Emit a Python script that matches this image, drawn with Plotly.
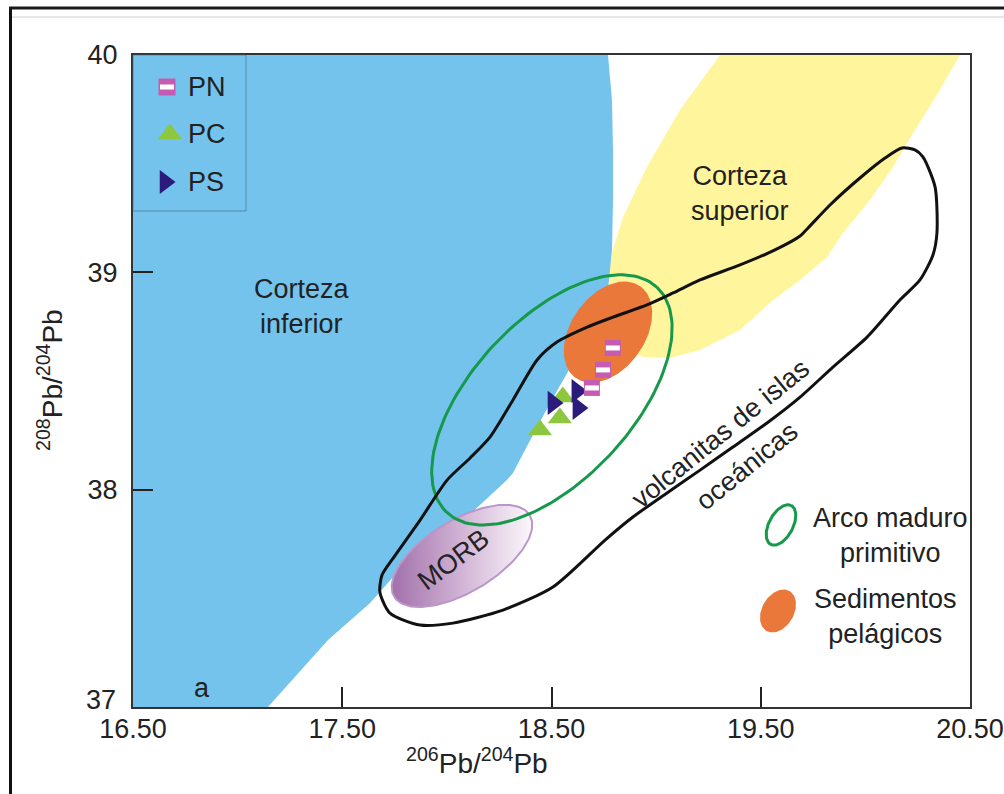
import numpy as np
import plotly.graph_objects as go

# ---- sample data: 208Pb/204Pb vs 206Pb/204Pb ----
pn_x = [18.793, 18.746, 18.693]
pn_y = [38.652, 38.551, 38.468]
pc_x = [18.445, 18.540, 18.554]
pc_y = [38.274, 38.330, 38.426]
ps_x = [18.507, 18.621, 18.626]
ps_y = [38.399, 38.454, 38.376]

# ---- reservoir fields (data units) ----
lower_crust_x = [16.500, 18.770, 18.789, 18.794, 18.794, 18.789, 18.770, 18.722, 18.651,
                 18.574, 18.507, 18.431, 18.316, 18.287, 18.158, 17.967, 17.743, 17.633,
                 17.432, 17.145, 16.500]
lower_crust_y = [40.000, 40.000, 39.793, 39.563, 39.333, 39.103, 38.919, 38.781, 38.666,
                 38.537, 38.422, 38.288, 38.077, 38.044, 37.929, 37.768, 37.598, 37.478,
                 37.308, 37.000, 37.000]

upper_crust_x = [19.305, 20.452, 20.342, 20.228, 20.132, 20.022, 19.893, 19.817, 19.688,
                 19.559, 19.401, 19.210, 19.066, 18.937, 18.851, 18.780, 18.765, 18.789,
                 18.842, 18.956, 19.114, 19.305]
upper_crust_y = [40.000, 40.000, 39.816, 39.641, 39.485, 39.333, 39.181, 39.071, 38.965,
                 38.873, 38.735, 38.643, 38.606, 38.610, 38.652, 38.781, 38.919, 39.089,
                 39.255, 39.485, 39.747, 40.000]

# ocean-island volcanics field outline
oib_x = [17.680, 17.690, 17.747, 17.872, 18.001, 18.111, 18.206, 18.316, 18.431, 18.526,
         18.670, 18.794, 18.956, 19.081, 19.210, 19.401, 19.568, 19.688, 19.726, 19.831,
         19.974, 20.094, 20.175, 20.237, 20.275, 20.333, 20.342, 20.323, 20.261, 20.165,
         20.008, 19.845, 19.688, 19.530, 19.367, 19.210, 19.052, 18.889, 18.756,
         18.507, 18.268, 18.029, 17.872, 17.728, 17.680]
oib_y = [37.528, 37.607, 37.690, 37.860, 38.044, 38.146, 38.242, 38.413, 38.597, 38.679,
         38.748, 38.794, 38.850, 38.905, 38.965, 39.034, 39.103, 39.167, 39.204, 39.310,
         39.434, 39.526, 39.572, 39.563, 39.531, 39.393, 39.181, 39.080, 38.965, 38.873,
         38.702, 38.564, 38.426, 38.307, 38.196, 38.090, 37.985, 37.874, 37.768,
         37.552, 37.446, 37.386, 37.377, 37.432, 37.528]

# ellipse fields: centre (x, y), semi-axes in x units, tilt in degrees
arc_field = dict(cx=18.502, cy=38.413, a=0.736, b=0.382, ang=47)
sed_field = dict(cx=18.770, cy=38.725, a=0.268, b=0.177, ang=55)
morb_field = dict(cx=18.072, cy=37.695, a=0.378, b=0.172, ang=31)

x_ticks = [16.5, 17.5, 18.5, 19.5, 20.5]
x_tick_text = ["16.50", "17.50", "18.50", "19.50", "20.50"]
y_ticks = [37, 38, 39, 40]
y_tick_text = ["37", "38", "39", "40"]

# ---- layout geometry ----
W, H = 1004, 794
ML, MR, MT, MB = 133, 34, 55, 87
PW, PH = W - ML - MR, H - MT - MB
XR, YR = [16.5, 20.5], [37, 40]
KX = PW / (XR[1] - XR[0])
KY = PH / (YR[1] - YR[0])

FONT = "Liberation Sans, Arial, sans-serif"
TXT = "#222222"
BLUE = "#74c3ec"
YELLOW = "#fff59c"
ORANGE = "#e9783a"
GREEN = "#17994b"
PINK = "#c45cb3"
LIME = "#8dc63f"
NAVY = "#2b1b7d"


def ellipse(f, n=160):
    t = np.linspace(0, 2 * np.pi, n)
    c, s = np.cos(np.radians(f["ang"])), np.sin(np.radians(f["ang"]))
    dx = f["a"] * np.cos(t) * c - f["b"] * np.sin(t) * s
    dy = f["a"] * np.cos(t) * s + f["b"] * np.sin(t) * c
    return f["cx"] + dx, f["cy"] + dy * KX / KY


def icon(px, py, a, b, ang, n=100):
    # small ellipse glyph in paper units, given a pixel centre and radii
    t = np.linspace(0, 2 * np.pi, n)
    c, s = np.cos(np.radians(ang)), np.sin(np.radians(ang))
    dx = a * np.cos(t) * c - b * np.sin(t) * s
    dy = a * np.cos(t) * s + b * np.sin(t) * c
    return (px - ML + dx) / PW, (H - MB - py + dy) / PH


def px2paper(px, py):
    return (px - ML) / PW, (H - MB - py) / PH


fig = go.Figure()

fig.add_trace(go.Scatter(x=upper_crust_x, y=upper_crust_y, mode="lines", fill="toself",
                         fillcolor=YELLOW, line=dict(width=0, color=YELLOW), hoverinfo="skip"))
fig.add_trace(go.Scatter(x=lower_crust_x, y=lower_crust_y, mode="lines", fill="toself",
                         fillcolor=BLUE, line=dict(width=0, color=BLUE), hoverinfo="skip"))

sx, sy = ellipse(sed_field)
fig.add_trace(go.Scatter(x=sx, y=sy, mode="lines", fill="toself", fillcolor=ORANGE,
                         line=dict(width=0, color=ORANGE), hoverinfo="skip"))

mx, my = ellipse(morb_field)
fig.add_trace(go.Scatter(x=mx, y=my, mode="lines", fill="toself",
                         fillgradient=dict(type="horizontal",
                                           colorscale=[[0, "#a170aa"], [0.5, "#d2b4d6"], [1, "#fbf8fb"]]),
                         line=dict(width=2, color="#bb96c8"), hoverinfo="skip"))

ax, ay = ellipse(arc_field)
fig.add_trace(go.Scatter(x=ax, y=ay, mode="lines", line=dict(width=3, color=GREEN),
                         hoverinfo="skip"))

fig.add_trace(go.Scatter(x=oib_x, y=oib_y, mode="lines",
                         line=dict(width=3, color="#111111", shape="spline", smoothing=0.7),
                         hoverinfo="skip"))

# samples
fig.add_trace(go.Scatter(x=pc_x, y=pc_y, mode="markers", name="PC",
                         marker=dict(symbol="triangle-up", size=21, color=LIME)))
fig.add_trace(go.Scatter(x=ps_x, y=ps_y, mode="markers", name="PS",
                         marker=dict(symbol="triangle-right", size=21, color=NAVY)))
fig.add_trace(go.Scatter(x=pn_x, y=pn_y, mode="markers", name="PN",
                         marker=dict(symbol="square", size=16, color=PINK)))
fig.add_trace(go.Scatter(x=pn_x, y=pn_y, mode="markers", hoverinfo="skip",
                         marker=dict(symbol="line-ew", size=10, color="white",
                                     line=dict(color="white", width=5))))

# legend glyphs on an overlay axis in paper units
lg_pn = px2paper(167, 87)
lg_pc = px2paper(170, 134)
lg_ps = px2paper(165, 182)
fig.add_trace(go.Scatter(x=[lg_pn[0]], y=[lg_pn[1]], xaxis="x2", yaxis="y2", mode="markers",
                         marker=dict(symbol="square", size=17, color=PINK), hoverinfo="skip"))
fig.add_trace(go.Scatter(x=[lg_pn[0]], y=[lg_pn[1]], xaxis="x2", yaxis="y2", mode="markers",
                         marker=dict(symbol="line-ew", size=10, color="white",
                                     line=dict(color="white", width=5)), hoverinfo="skip"))
fig.add_trace(go.Scatter(x=[lg_pc[0]], y=[lg_pc[1]], xaxis="x2", yaxis="y2", mode="markers",
                         marker=dict(symbol="triangle-up", size=21, color=LIME), hoverinfo="skip"))
fig.add_trace(go.Scatter(x=[lg_ps[0]], y=[lg_ps[1]], xaxis="x2", yaxis="y2", mode="markers",
                         marker=dict(symbol="triangle-right", size=21, color=NAVY), hoverinfo="skip"))

gx, gy = icon(781, 525, 22, 12, 62)
fig.add_trace(go.Scatter(x=gx, y=gy, xaxis="x2", yaxis="y2", mode="lines",
                         line=dict(width=3, color=GREEN), hoverinfo="skip"))
ox, oy = icon(778, 611, 23, 16, 60)
fig.add_trace(go.Scatter(x=ox, y=oy, xaxis="x2", yaxis="y2", mode="lines", fill="toself",
                         fillcolor=ORANGE, line=dict(width=0, color=ORANGE), hoverinfo="skip"))

ann = []


def label(px, py, text, size=27, angle=0, xanchor="center"):
    x, y = px2paper(px, py)
    ann.append(dict(x=x, y=y, xref="paper", yref="paper", text=text, showarrow=False,
                    textangle=angle, xanchor=xanchor, yanchor="middle",
                    font=dict(family=FONT, size=size, color=TXT)))


label(302, 306, "Corteza<br>inferior", 27)
label(740, 193, "Corteza<br>superior", 27)
label(453, 560, "MORB", 27, -37)
label(720, 434, "volcanitas de islas", 27, -39)
label(747, 466, "oceánicas", 27, -39)
label(890, 535, "Arco maduro<br>primitivo", 27)
label(885, 616, "Sedimentos<br>pelágicos", 27)
label(202, 688, "a", 27)
label(186, 87, "PN", 27, xanchor="left")
label(186, 134, "PC", 27, xanchor="left")
label(186, 182, "PS", 27, xanchor="left")
label(477, 761, "<sup>206</sup>Pb/<sup>204</sup>Pb", 28)
label(50, 380, "<sup>208</sup>Pb/<sup>204</sup>Pb", 28, -90)

# the lowest y tick label sits a little above its tick, clear of the x labels
y_labels_axis = [t if v != YR[0] else "" for v, t in zip(y_ticks, y_tick_text)]
ann.append(dict(x=0, y=YR[0], xref="paper", yref="y", text=y_tick_text[0], showarrow=False,
                xanchor="right", yanchor="middle", xshift=-15, yshift=7,
                font=dict(family=FONT, size=27, color=TXT)))

shapes = [
    # legend box
    dict(type="rect", xref="paper", yref="paper", x0=0, x1=(246 - ML) / PW,
         y0=(H - MB - 211) / PH, y1=1, line=dict(color="rgba(55,95,130,0.55)", width=1)),
    # outer frame
    dict(type="line", xref="paper", yref="paper", x0=(10.5 - ML) / PW, x1=(10.5 - ML) / PW,
         y0=(H - MB - 7) / PH, y1=(H - MB - 800) / PH, line=dict(color="#111111", width=3)),
    dict(type="line", xref="paper", yref="paper", x0=(9 - ML) / PW, x1=(1010 - ML) / PW,
         y0=(H - MB - 8) / PH, y1=(H - MB - 8) / PH, line=dict(color="#1a1a1a", width=3)),
    dict(type="line", xref="paper", yref="paper", x0=(12 - ML) / PW, x1=(1010 - ML) / PW,
         y0=(H - MB - 17) / PH, y1=(H - MB - 17) / PH, line=dict(color="#cccccc", width=1)),
]

axis_common = dict(showgrid=False, zeroline=False, showline=True, linecolor="#333333",
                   linewidth=2, mirror=True, ticks="inside", ticklen=20, tickwidth=2,
                   tickcolor="#222222", automargin=False,
                   tickfont=dict(family=FONT, size=27, color=TXT))

fig.update_layout(
    width=W, height=H,
    margin=dict(l=ML, r=MR, t=MT, b=MB, autoexpand=False),
    paper_bgcolor="white", plot_bgcolor="white",
    showlegend=False,
    xaxis=dict(range=XR, tickvals=x_ticks, ticktext=x_tick_text, ticklabelstandoff=-3,
               **axis_common),
    yaxis=dict(range=YR, tickvals=y_ticks, ticktext=y_labels_axis, ticklabelstandoff=8,
               **axis_common),
    xaxis2=dict(range=[0, 1], overlaying="x", visible=False, fixedrange=True, automargin=False),
    yaxis2=dict(range=[0, 1], overlaying="y", visible=False, fixedrange=True, automargin=False),
    annotations=ann,
    shapes=shapes,
)

fig.write_html("out.html")
